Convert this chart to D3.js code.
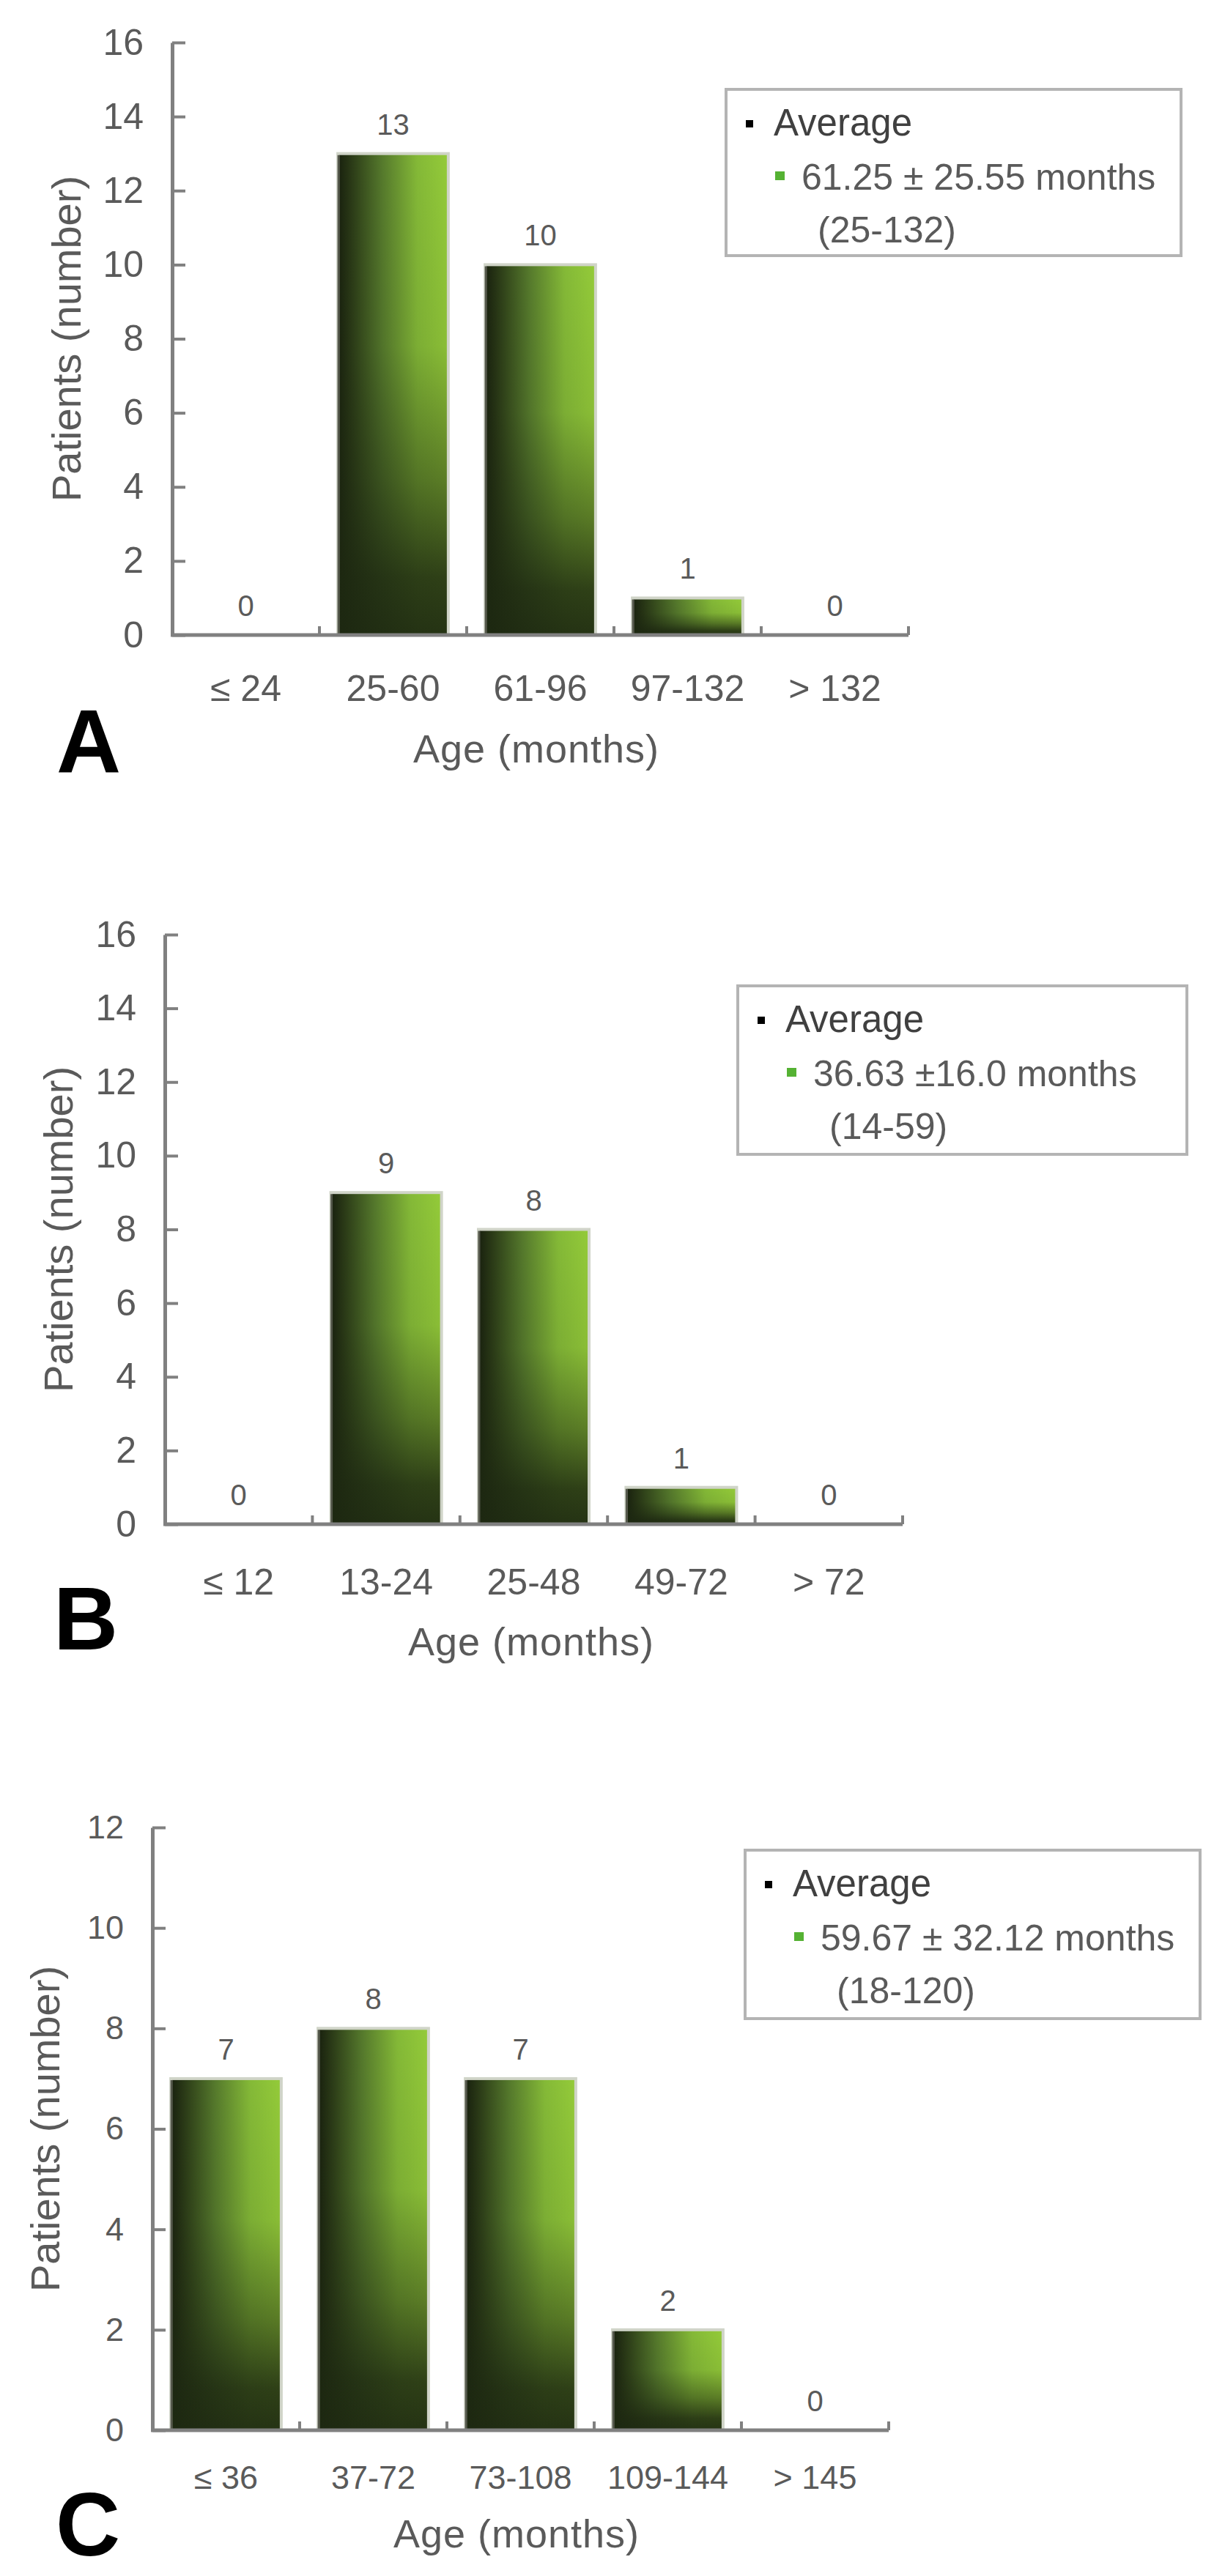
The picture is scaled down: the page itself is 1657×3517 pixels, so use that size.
<!DOCTYPE html>
<html>
<head>
<meta charset="utf-8">
<script src="https://cdn.jsdelivr.net/npm/d3@7"></script>
<style>
  html, body { margin: 0; padding: 0; background: #ffffff; }
  svg { display: block; }
  text { font-family: "Liberation Sans", Arial, "DejaVu Sans", sans-serif; }
</style>
</head>
<body>
<svg id="chart" width="1657" height="3517"></svg>
<script>
// ---------------- DATA ----------------
const categoriesA = ["≤ 24", "25-60", "61-96", "97-132", "> 132"];
const valuesA = [0, 13, 10, 1, 0];
const yTicksA = [0, 2, 4, 6, 8, 10, 12, 14, 16];
const legendA = ["Average", "61.25 ± 25.55 months", "(25-132)"];

const categoriesB = ["≤ 12", "13-24", "25-48", "49-72", "> 72"];
const valuesB = [0, 9, 8, 1, 0];
const yTicksB = [0, 2, 4, 6, 8, 10, 12, 14, 16];
const legendB = ["Average", "36.63 ±16.0 months", "(14-59)"];

const categoriesC = ["≤ 36", "37-72", "73-108", "109-144", "> 145"];
const valuesC = [7, 8, 7, 2, 0];
const yTicksC = [0, 2, 4, 6, 8, 10, 12];
const legendC = ["Average", "59.67 ± 32.12 months", "(18-120)"];

const panelLetters = ["A", "B", "C"];
const xTitle = "Age (months)";
const yTitle = "Patients (number)";

// ---------------- LAYOUT ----------------
const panels = [
  { letter: panelLetters[0], cats: categoriesA, vals: valuesA, ticks: yTicksA, legend: legendA,
    x0: 235, x1: 1240, yTop: 58, yBot: 867, tickFs: 50, catFs: 50,
    yTitleX: 90, xLabDy: 73, xTitleDy: 155, xTitleX: 732, letterX: 121, letterBase: 1055,
    box: { x: 991, y: 122, w: 621, h: 227 } },
  { letter: panelLetters[1], cats: categoriesB, vals: valuesB, ticks: yTicksB, legend: legendB,
    x0: 225, x1: 1232, yTop: 1276, yBot: 2081, tickFs: 50, catFs: 50,
    yTitleX: 79, xLabDy: 79, xTitleDy: 160, xTitleX: 725, letterX: 117, letterBase: 2252,
    box: { x: 1007, y: 1346, w: 613, h: 230 } },
  { letter: panelLetters[2], cats: categoriesC, vals: valuesC, ticks: yTicksC, legend: legendC,
    x0: 208, x1: 1213, yTop: 2495, yBot: 3318, tickFs: 45, catFs: 45,
    yTitleX: 61, xLabDy: 64, xTitleDy: 141, xTitleX: 705, letterX: 120, letterBase: 3489,
    box: { x: 1017, y: 2526, w: 621, h: 230 } }
];

const svg = d3.select("#chart");
svg.append("rect").attr("width", 1657).attr("height", 3517).attr("fill", "#fff");

// gradients
const defs = svg.append("defs");
const gh = defs.append("linearGradient").attr("id", "gradH")
  .attr("x1", 0).attr("y1", 0).attr("x2", 1).attr("y2", 0);
[[0, "#18200e"], [0.1, "#273515"], [0.4, "#55792c"], [0.72, "#84b937"], [1, "#94cb39"]]
  .forEach(([o, c]) => gh.append("stop").attr("offset", o).attr("stop-color", c));
const gv = defs.append("linearGradient").attr("id", "gradV")
  .attr("x1", 0).attr("y1", 0).attr("x2", 0).attr("y2", 1);
[[0, 0], [0.4, 0.08], [0.68, 0.48], [0.88, 0.85], [1, 0.93]]
  .forEach(([o, a]) => gv.append("stop").attr("offset", o).attr("stop-color", "#1d2811").attr("stop-opacity", a));

const axisColor = "#808080";
const textColor = "#5a5a5a";

panels.forEach(p => {
  const g = svg.append("g");
  const x = d3.scaleBand().domain(p.cats).range([p.x0, p.x1]).paddingInner(0.25).paddingOuter(0.125);
  const yMax = d3.max(p.ticks);
  const y = d3.scaleLinear().domain([0, yMax]).range([p.yBot, p.yTop]);

  // bars
  const bars = g.append("g");
  p.cats.forEach((c, i) => {
    const v = p.vals[i];
    if (v <= 0) return;
    const bx = x(c), bw = x.bandwidth(), by = y(v), bh = y(0) - y(v);
    bars.append("rect").attr("x", bx).attr("y", by).attr("width", bw).attr("height", bh)
      .attr("fill", "url(#gradH)");
    bars.append("rect").attr("x", bx).attr("y", by).attr("width", bw).attr("height", bh)
      .attr("fill", "url(#gradV)")
      .attr("stroke", "#d0d4c8").attr("stroke-width", 4);
    bars.append("line").attr("x1", bx + 1).attr("x2", bx + 1).attr("y1", by + 2).attr("y2", y(0))
      .attr("stroke", "#55584c").attr("stroke-width", 3);
  });

  // value labels
  g.append("g").selectAll("text").data(p.cats).join("text")
    .attr("x", d => x(d) + x.bandwidth() / 2)
    .attr("y", (d, i) => y(p.vals[i]) - 26)
    .attr("text-anchor", "middle")
    .attr("font-size", 40)
    .attr("fill", textColor)
    .text((d, i) => p.vals[i]);

  // y axis
  const yAxis = d3.axisLeft(y).tickValues(p.ticks).tickSizeInner(-18).tickSizeOuter(0).tickPadding(39)
    .tickFormat(d3.format("d"));
  const ya = g.append("g").attr("transform", `translate(${p.x0},0)`).call(yAxis);
  ya.select(".domain").attr("stroke", axisColor).attr("stroke-width", 5);
  ya.selectAll(".tick line").attr("stroke", axisColor).attr("stroke-width", 4);
  ya.selectAll(".tick text").attr("font-size", p.tickFs).attr("fill", textColor)
    .attr("font-family", "Liberation Sans, Arial, sans-serif");

  // x axis line + boundary ticks
  g.append("line").attr("x1", p.x0 - 2).attr("x2", p.x1).attr("y1", p.yBot).attr("y2", p.yBot)
    .attr("stroke", axisColor).attr("stroke-width", 5);
  const step = x.step();
  g.append("g").selectAll("line").data(p.cats).join("line")
    .attr("x1", d => x(d) - x.paddingOuter() * step + step)
    .attr("x2", d => x(d) - x.paddingOuter() * step + step)
    .attr("y1", p.yBot).attr("y2", p.yBot - 12)
    .attr("stroke", axisColor).attr("stroke-width", 4);

  // x labels
  const xAxis = d3.axisBottom(x).tickSize(0).tickPadding(0);
  const xa = g.append("g").attr("transform", `translate(0,${p.yBot})`).call(xAxis);
  xa.select(".domain").remove();
  xa.selectAll(".tick text").attr("font-size", p.catFs).attr("fill", textColor)
    .attr("dy", null).attr("y", p.xLabDy).attr("dominant-baseline", "central")
    .attr("font-family", "Liberation Sans, Arial, sans-serif");

  // titles
  g.append("text").attr("x", p.xTitleX).attr("y", p.yBot + p.xTitleDy)
    .attr("text-anchor", "middle").attr("dominant-baseline", "central")
    .attr("font-size", 54).attr("fill", textColor).attr("letter-spacing", 1).text(xTitle);
  g.append("text")
    .attr("transform", `translate(${p.yTitleX},${(p.yTop + p.yBot) / 2}) rotate(-90)`)
    .attr("text-anchor", "middle").attr("dominant-baseline", "central")
    .attr("font-size", 56).attr("fill", textColor).text(yTitle);

  // panel letter
  g.append("text").attr("x", p.letterX).attr("y", p.letterBase)
    .attr("text-anchor", "middle")
    .attr("font-size", 122).attr("font-weight", "bold").attr("fill", "#000").text(p.letter);

  // legend
  const b = p.box;
  const lg = g.append("g");
  lg.append("rect").attr("x", b.x).attr("y", b.y).attr("width", b.w).attr("height", b.h)
    .attr("fill", "#fff").attr("stroke", "#b4b4b4").attr("stroke-width", 4);
  lg.append("rect").attr("x", b.x + 27).attr("y", b.y + 42).attr("width", 10).attr("height", 10).attr("fill", "#000");
  lg.append("text").attr("x", b.x + 65).attr("y", b.y + 45).attr("dominant-baseline", "central")
    .attr("font-size", 51).attr("fill", "#404040").text(p.legend[0]);
  lg.append("rect").attr("x", b.x + 67).attr("y", b.y + 112).attr("width", 13).attr("height", 12).attr("fill", "#55b233");
  lg.append("text").attr("x", b.x + 103).attr("y", b.y + 120).attr("dominant-baseline", "central")
    .attr("font-size", 50).attr("fill", textColor).text(p.legend[1]);
  lg.append("text").attr("x", b.x + 125).attr("y", b.y + 192).attr("dominant-baseline", "central")
    .attr("font-size", 50).attr("fill", textColor).text(p.legend[2]);
});
</script>
</body>
</html>
